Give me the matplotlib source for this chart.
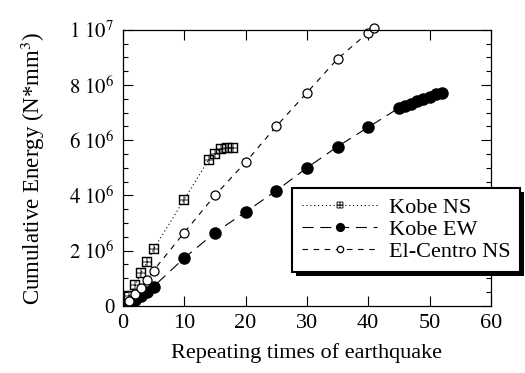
import matplotlib
matplotlib.use("Agg")
import matplotlib.pyplot as plt
from matplotlib.ticker import MultipleLocator
from matplotlib.patches import Rectangle
from matplotlib.transforms import IdentityTransform

plt.rcParams['font.family'] = ['Liberation Serif', 'DejaVu Serif']
plt.rcParams['mathtext.fontset'] = 'stix'

# Daten
ns_x = [1, 2, 3, 4, 5, 10, 14, 15, 16, 17, 18]
ns_y = [0.35e6, 0.75e6, 1.2e6, 1.6e6, 2.05e6, 3.85e6, 5.3e6, 5.5e6, 5.7e6, 5.72e6, 5.72e6]

ew_x = [1, 2, 3, 4, 5, 10, 15, 20, 25, 30, 35, 40, 45, 46, 47, 48, 49, 50, 51, 52]
ew_y = [0.05e6, 0.2e6, 0.35e6, 0.5e6, 0.7e6, 1.73e6, 2.65e6, 3.4e6, 4.17e6, 5.0e6,
        5.77e6, 6.47e6, 7.17e6, 7.25e6, 7.33e6, 7.42e6, 7.5e6, 7.58e6, 7.66e6, 7.72e6]

ec_x = [1, 2, 3, 4, 5, 10, 15, 20, 25, 30, 35, 40, 41]
ec_y = [0.18e6, 0.42e6, 0.65e6, 0.95e6, 1.28e6, 2.65e6, 4.0e6, 5.2e6, 6.5e6, 7.72e6,
        8.95e6, 9.9e6, 10.05e6]

y_ticks = [0, 2e6, 4e6, 6e6, 8e6, 1e7]
y_labels = ['0', r'$2\ 10^{6}$', r'$4\ 10^{6}$', r'$6\ 10^{6}$', r'$8\ 10^{6}$', r'$1\ 10^{7}$']

fig = plt.figure(figsize=(5.25, 3.73), dpi=100)
ax = fig.add_axes([0.234, 0.18, 0.701, 0.74])

ax.plot(ns_x, ns_y, linestyle=(0, (1, 2.5)), color='k', linewidth=0.8,
        marker=r'$\boxplus$', markersize=7, markeredgewidth=0.3,
        markerfacecolor='k', label='Kobe NS')
ax.plot(ew_x, ew_y, linestyle=(0, (10, 6)), color='k', linewidth=0.8,
        marker='o', markersize=8, markerfacecolor='k', label='Kobe EW')
ax.plot(ec_x, ec_y, linestyle=(0, (5, 5)), color='k', linewidth=0.8,
        marker='o', markersize=6.5, markerfacecolor='white', markeredgewidth=0.9,
        label='El-Centro NS', clip_on=False)

ax.set_xlim(0, 60)
ax.set_ylim(0, 1e7)
ax.xaxis.set_major_locator(MultipleLocator(10))
ax.set_yticks(y_ticks)
ax.set_yticklabels(y_labels)
ax.yaxis.set_minor_locator(MultipleLocator(0.5e6))
ax.tick_params(which='both', direction='in', top=True, right=True, width=0.8)
ax.tick_params(axis='x', labelsize=16, pad=6)
ax.tick_params(axis='y', labelsize=15, pad=6)
ax.tick_params(which='major', length=7)
ax.tick_params(which='minor', length=3.5)
for s in ax.spines.values():
    s.set_linewidth(0.9)

ax.set_xlabel('Repeating times of earthquake', fontsize=16, labelpad=7)
ax.set_ylabel(r'Cumulative Energy (N*mm$^{3}$)', fontsize=16.5, labelpad=16)

leg = ax.legend(loc='upper left', bbox_to_anchor=(0.556, 0.497), bbox_transform=fig.transFigure,
                fontsize=16, frameon=True, fancybox=False, framealpha=1, edgecolor='k',
                handlelength=3.4, borderpad=0.45, labelspacing=0.05, handletextpad=0.5,
                markerscale=0.7, borderaxespad=0)
leg.get_frame().set_linewidth(1.5)
leg.set_zorder(6)

# dicker schwarzer Schatten unter der Legende
fig.canvas.draw()
bb = leg.get_window_extent()
ax.add_patch(Rectangle((bb.x0 + 4, bb.y0 - 4), bb.width, bb.height, transform=IdentityTransform(),
                       facecolor='k', edgecolor='none', clip_on=False, zorder=5.5))

fig.savefig('out.png', dpi=100)
